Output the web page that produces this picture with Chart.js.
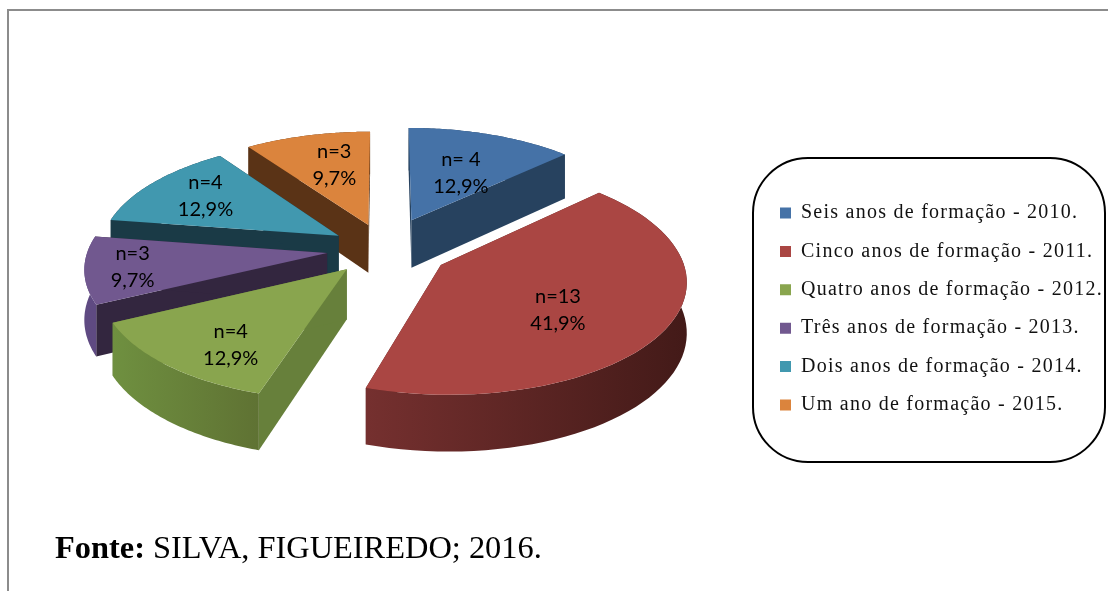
<!DOCTYPE html>
<html lang="pt">
<head>
<meta charset="utf-8">
<title>Tempo de formação</title>
<script src="https://cdn.jsdelivr.net/npm/chart.js@4"></script>
<style>
    html, body { margin: 0; background: #fff; overflow: hidden; }
    #wrap { position: relative; width: 1108px; height: 591px; }
    #frame { position: absolute; left: 7px; top: 9px; right: 0; bottom: 0; border-left: 2px solid #8c8c8c; border-top: 2px solid #8c8c8c; }
    canvas { position: absolute; left: 0; top: 0; }
    #fonte { position: absolute; left: 55px; top: 529px; font: 32.4px "Liberation Serif", serif; color: #000; white-space: nowrap; }
</style>
</head>
<body>
<div id="wrap">
    <div id="frame"></div>
    <canvas id="grafico" width="1108" height="591"></canvas>
    <div id="fonte"><b>Fonte:</b> SILVA, FIGUEIREDO; 2016.</div>
</div>
<script>
// Dados
const categorias = [
    'Seis anos de formação - 2010.',
    'Cinco anos de formação - 2011.',
    'Quatro anos de formação - 2012.',
    'Três anos de formação - 2013.',
    'Dois anos de formação - 2014.',
    'Um ano de formação - 2015.'
];
const valores = [4, 13, 4, 3, 4, 3];
const rotulosN = ['n= 4', 'n=13', 'n=4', 'n=3', 'n=4', 'n=3'];

// Estilo de cada fatia
const cores = ['#4572A7', '#AA4643', '#89A54E', '#71588F', '#4198AF', '#DB843D'];
const coresParede = ['#27425f', '#5a2422', '#67803b', '#33263f', '#1a3a46', '#5a3316'];
const coresBordaEsq = ['#27425f', '#75302f', '#6f9040', '#5f4a82', '#1a3a46', '#5a3316'];
const coresBordaDir = ['#27425f', '#431a18', '#5f7233', '#5f4a82', '#1a3a46', '#5a3316'];
const deslocamentos = [70, 65, 57, 58, 55, 56];
const raioRotulo = [130, 155, 165, 198, 170, 135];
const ajusteRotuloX = [4, -25, 4, 6, 1, 2];
const ajusteRotuloY = [1, 4, 11, 0, -1, -7];
const ordemDesenho = [0, 5, 4, 3, 2, 1]; // de tras para frente

const inclinacao = 0.46;
const perspectiva = 0.12;
const profundidade = 49;

// Projeta um ponto do plano da pizza para a tela
function projetar(arc, x, y) {
    const dy = y - arc.y;
    const w = 1 - perspectiva * dy / arc.outerRadius;
    return { x: arc.x + (x - arc.x) / w, y: arc.y + inclinacao * dy / w, queda: profundidade / w };
}

function poligono(ctx, pontos) {
    ctx.beginPath();
    pontos.forEach((p, i) => i ? ctx.lineTo(p.x, p.y) : ctx.moveTo(p.x, p.y));
    ctx.closePath();
    ctx.fill();
}

function abaixo(p) {
    return { x: p.x, y: p.y + p.queda };
}

function desenharFatia(ctx, arc, i) {
    const meio = (arc.startAngle + arc.endAngle) / 2;
    const cx = arc.x + deslocamentos[i] * Math.cos(meio);
    const cy = arc.y + deslocamentos[i] * Math.sin(meio);
    const R = arc.outerRadius;
    const apice = projetar(arc, cx, cy);

    const borda = [];
    for (let k = 0; k <= 60; k++) {
        const a = arc.startAngle + (arc.endAngle - arc.startAngle) * k / 60;
        borda.push(projetar(arc, cx + R * Math.cos(a), cy + R * Math.sin(a)));
    }

    // paredes do corte
    const inicio = borda[0];
    const fim = borda[borda.length - 1];
    ctx.fillStyle = coresParede[i];
    poligono(ctx, [apice, inicio, abaixo(inicio), abaixo(apice)]);
    poligono(ctx, [apice, fim, abaixo(fim), abaixo(apice)]);

    // parede externa com gradiente
    const xs = borda.map(p => p.x);
    const grad = ctx.createLinearGradient(Math.min(...xs), 0, Math.max(...xs), 0);
    grad.addColorStop(0, coresBordaEsq[i]);
    grad.addColorStop(1, coresBordaDir[i]);
    ctx.fillStyle = grad;
    poligono(ctx, borda.concat(borda.map(abaixo).reverse()));

    // face de cima
    ctx.fillStyle = cores[i];
    poligono(ctx, [apice].concat(borda));
}

function desenharRotulo(ctx, arc, i, total) {
    const meio = (arc.startAngle + arc.endAngle) / 2;
    const dist = deslocamentos[i] + raioRotulo[i];
    const p = projetar(arc, arc.x + dist * Math.cos(meio), arc.y + dist * Math.sin(meio));
    const x = p.x + ajusteRotuloX[i];
    const y = p.y + ajusteRotuloY[i];
    const pct = (valores[i] / total * 100).toFixed(1).replace('.', ',') + '%';
    ctx.fillStyle = '#000';
    ctx.font = '20px Lato';
    ctx.textAlign = 'center';
    ctx.textBaseline = 'middle';
    ctx.fillText(rotulosN[i], x, y - 13.5);
    ctx.fillText(pct, x, y + 13.5);
}

const pizza3d = {
    id: 'pizza3d',
    afterLayout(chart) {
        // caixa da legenda fica deslocada para baixo em relacao a pizza
        const leg = chart.legend;
        leg.left = 761.6;
        leg.right = 1106;
        leg.top = 157;
        leg.bottom = 461;
    },
    beforeDraw(chart) {
        const ctx = chart.ctx;
        ctx.save();
        ctx.beginPath();
        ctx.roundRect(753, 158, 352, 304, 55);
        ctx.fillStyle = '#fff';
        ctx.fill();
        ctx.lineWidth = 2;
        ctx.strokeStyle = '#000';
        ctx.stroke();
        ctx.restore();
        ctx.letterSpacing = '1.25px'; // legenda da figura e bem espacada
    },
    beforeDatasetDraw(chart) {
        const ctx = chart.ctx;
        const arcos = chart.getDatasetMeta(0).data;
        const total = valores.reduce((a, b) => a + b, 0);
        ctx.letterSpacing = '0px';
        ctx.save();
        ordemDesenho.forEach(i => desenharFatia(ctx, arcos[i], i));
        arcos.forEach((arc, i) => desenharRotulo(ctx, arc, i, total));
        ctx.restore();
        return false;
    }
};

new Chart(document.getElementById('grafico'), {
    type: 'pie',
    data: {
        labels: categorias,
        datasets: [{
            data: valores,
            backgroundColor: cores,
            borderWidth: 0,
            offset: deslocamentos,
            radius: 239
        }]
    },
    options: {
        responsive: false,
        animation: false,
        layout: { padding: { left: 0, right: 26, top: 0, bottom: 93 } },
        plugins: {
            tooltip: { enabled: false },
            legend: {
                position: 'right',
                align: 'center',
                labels: {
                    boxWidth: 11,
                    boxHeight: 11,
                    padding: 18.4,
                    color: '#111',
                    font: { family: '"Liberation Serif"', size: 20 }
                }
            }
        }
    },
    plugins: [pizza3d]
});
</script>
</body>
</html>
